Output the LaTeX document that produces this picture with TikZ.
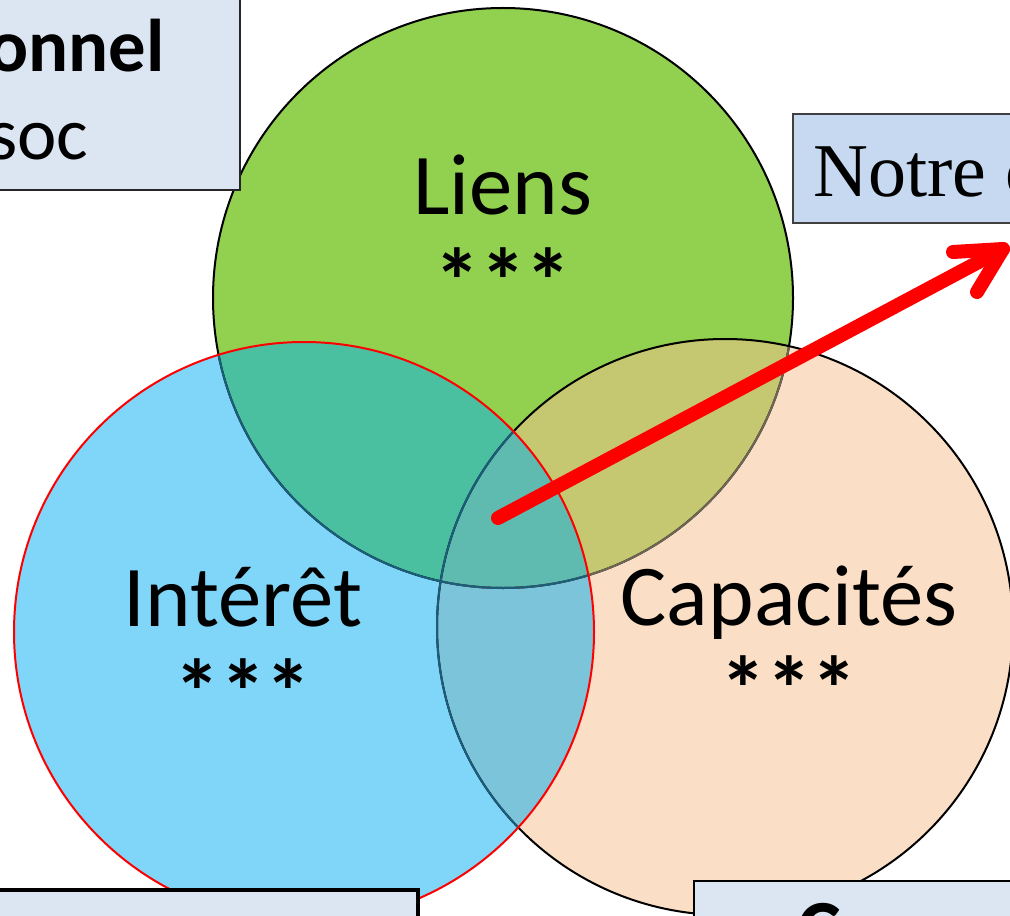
\documentclass[tikz,border=0pt]{standalone}
\usepackage{fontspec}
\setmainfont{Carlito}
\newfontfamily\notrefont{Liberation Serif}
\usetikzlibrary{calc}
\definecolor{liensgreen}{HTML}{92D050}
\definecolor{interetblue}{HTML}{80D6F8}
\definecolor{capapeach}{HTML}{FBDEC6}
\definecolor{limix}{HTML}{4AC0A1}
\definecolor{lcmix}{HTML}{C5C870}
\definecolor{icmix}{HTML}{7CC4DA}
\definecolor{allmix}{HTML}{5FBBB0}
\definecolor{tealline}{HTML}{1B5E7C}
\definecolor{brownline}{HTML}{6F6656}
\definecolor{boxfill}{HTML}{DCE6F2}
\definecolor{notrefill}{HTML}{C6D9F1}
\newcommand\cliens{(503,298) circle [radius=217.5pt]}
\newcommand\cinteret{(304,632) circle [radius=217.5pt]}
\newcommand\ccapa{(725,627) circle [radius=216pt]}

\begin{document}
\begin{tikzpicture}[x=0.75pt,y=-0.75pt,
    ring/.style={line width=1.5pt},
    biglabel/.style={anchor=base,inner sep=0,font=\fontsize{65}{72}\selectfont},
    stars/.style={biglabel,font=\fontsize{69}{72}\selectfont\bfseries},
    fleche/.style={red,line width=10.5pt,line cap=round}]

\useasboundingbox (0,0) rectangle (1010,916);
\clip (0,0) rectangle (1010,916);

% circles
\fill[liensgreen] \cliens;
\fill[capapeach] \ccapa;
\fill[interetblue] \cinteret;
% overlaps
\begin{scope}
  \clip \cliens;
  \fill[lcmix] \ccapa;
  \fill[limix] \cinteret;
\end{scope}
\begin{scope}
  \clip \cinteret;
  \fill[icmix] \ccapa;
  \clip \cliens;
  \fill[allmix] \ccapa;
\end{scope}

% outlines
\draw[ring] \cliens;
\begin{scope}
  \clip \ccapa;
  \draw[ring,brownline] \cliens;
\end{scope}
\draw[ring] \ccapa;
\begin{scope}
  \clip \cinteret;
  \draw[ring,tealline] \cliens;
  \draw[ring,tealline] \ccapa;
\end{scope}
\draw[ring,red] \cinteret;

% labels
\node[biglabel] (liens) at (503,215) {Liens};
\node[stars] (liensstars) at (503,314) {***};
\node[biglabel] (interet) at (243,626) {Intérêt};
\node[stars] (interetstars) at (243,724) {***};
\node[biglabel] (capa) at (789,625) {Capacités};
\node[stars] (capastars) at (789,721) {***};

% boxes
\draw[line width=1.5pt,draw=black!85,fill=boxfill] (-10,-10) rectangle (240,190);
\node[anchor=base west,inner sep=0,font=\fontsize{56}{66}\selectfont\bfseries] (onnel) at (-12,72) {onnel};
\node[anchor=base west,inner sep=0,font=\fontsize{56}{66}\selectfont] (soc) at (-12,160) {soc};

\draw[line width=1.5pt,draw=black!75,fill=notrefill] (793,114) rectangle (1020,223);
\node[anchor=base west,inner sep=0,font=\notrefont\fontsize{57}{66}\selectfont] (notre) at (813,197) {Notre c};

\draw[line width=3.5pt,fill=boxfill] (-10,890) rectangle (418,940);
\draw[line width=2pt,fill=boxfill] (694,881) rectangle (1020,940);
\node[anchor=base west,inner sep=0,font=\fontsize{62}{70}\selectfont\bfseries] (cbox) at (797,957) {C};

% arrow
\coordinate (flechedebut) at (498,518);
\coordinate (flechefin) at (1003,249);
\draw[fleche] (flechedebut) -- (flechefin);
\draw[fleche,line join=round] ($(flechefin)+(-50,3)$) -- (flechefin) -- ($(flechefin)+(-26,43)$);

\end{tikzpicture}
\end{document}
